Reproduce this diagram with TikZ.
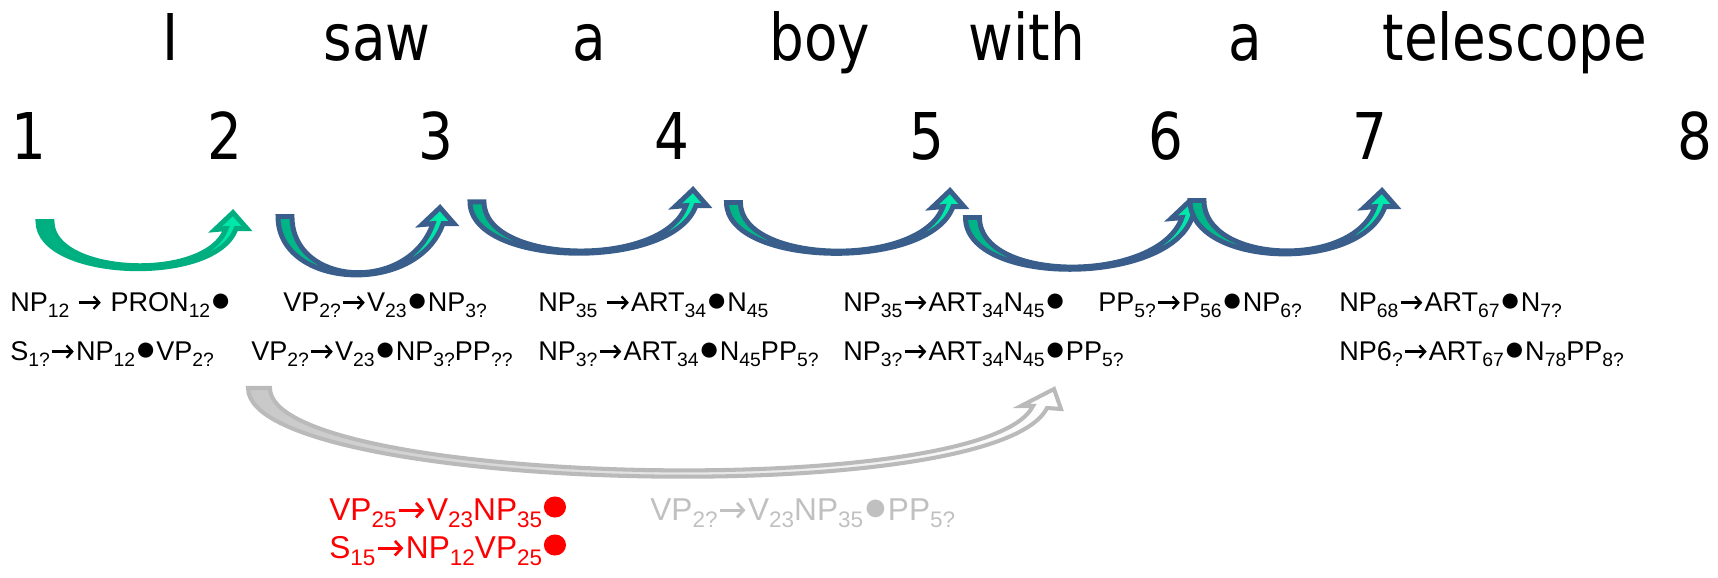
\documentclass[tikz,border=0pt]{standalone}
\usepackage{fontspec}
\setmainfont{Liberation Sans}
\newfontfamily\wordfont[FakeStretch=0.85]{DejaVu Sans}
\usetikzlibrary{arrows.meta, calc}
\definecolor{arcblue}{RGB}{58,94,140}
\definecolor{stripgreen}{RGB}{0,178,134}
\definecolor{lightgreen}{RGB}{0,236,172}
\definecolor{darkgreen}{RGB}{0,174,128}
\definecolor{arcgray}{RGB}{186,186,186}
\definecolor{softgray}{RGB}{200,200,200}
\definecolor{fadegray}{RGB}{192,192,192}
\def\subsize{11}
\newcommand{\sub}[1]{\raisebox{-0.23em}{\fontsize{\subsize}{\subsize}\selectfont #1}}
\newcommand{\bul}{\scalebox{1.3}{●}}
\newcommand{\bigdot}{\hspace{1pt}\tikz[baseline=0pt]\fill[red] (0pt,7.4pt) circle[x radius=6.3pt, y radius=6pt];}
\newcommand{\ra}{\hspace{0.04em}\tikz[baseline=0pt]\draw[line width=0.085em, -{Straight Barb[length=0.21em, width=0.46em]}] (0pt,0.31em) -- (0.8em,0.31em);\hspace{0.04em}}
% curved hop arrow: #2 start, #3 tip, #4 outer depth, #5 inner depth
\newcommand{\hop}[5][hopband]{%
  \filldraw[#1] ($(#2)+(-7,0)$) .. controls +(0,#4) and +(-0.35*#4,#4) .. ($(#3)+(3,16)$)
    -- ($(#3)+(14,16)$) -- (#3) -- ($(#3)+(-18,17)$) -- ($(#3)+(-7,16)$)
    .. controls +(-0.35*#5,#5) and +(0,#5) .. ($(#2)+(7,0)$) -- cycle;
}

\begin{document}
\begin{tikzpicture}[
        x=0.02cm, y=-0.02cm,
        word/.style={anchor=base, inner sep=0pt, font=\wordfont\fontsize{36.7}{40}\selectfont},
        rule/.style={anchor=base west, inner sep=0pt, font=\fontsize{15.4}{18}\selectfont\def\subsize{11}},
        done/.style={rule, text=red, font=\fontsize{18}{21}\selectfont\def\subsize{12.8}},
        faded/.style={done, text=fadegray},
        hopband/.style={draw=arcblue, line width=2.8pt, line join=miter, left color=stripgreen, right color=lightgreen},
        firsthop/.style={hopband, draw=darkgreen, left color=darkgreen, right color=lightgreen},
        grayhop/.style={draw=arcgray, line width=2.3pt, line join=miter, left color=softgray, right color=white}
    ]
        \useasboundingbox (0,0) rectangle (1718,578);

        % sentence and positions
        \node[word] (w1) at (171,60) {I};
        \node[word] (w2) at (377,60) {saw};
        \node[word] (w3) at (589,60) {a};
        \node[word] (w4) at (820,60) {boy};
        \node[word] (w5) at (1027,60) {with};
        \node[word] (w6) at (1245,60) {a};
        \node[word] (w7) at (1515,60) {telescope};

        \node[word] (p1) at (29,159) {1};
        \node[word] (p2) at (225,159) {2};
        \node[word] (p3) at (436,159) {3};
        \node[word] (p4) at (672,159) {4};
        \node[word] (p5) at (927,159) {5};
        \node[word] (p6) at (1166,159) {6};
        \node[word] (p7) at (1370,159) {7};
        \node[word] (p8) at (1695,159) {8};

        % arc ends
        \coordinate (b1) at (45,221.5);   \coordinate (e1) at (233,212.6);
        \coordinate (b2) at (285,216.5);  \coordinate (e2) at (440,207.6);
        \coordinate (b3) at (477,201.8);  \coordinate (e3) at (693,189.6);
        \coordinate (b4) at (733.5,202.5);\coordinate (e4) at (950,190.6);
        \coordinate (b5) at (972.5,217.5);\coordinate (e5) at (1189,201.6);
        \coordinate (b6) at (1197,200.5); \coordinate (e6) at (1382,190.6);
        \coordinate (b7) at (259,388);    \coordinate (e7) at (1054,389);

        \hop[firsthop]{b1}{e1}{58}{54}
        \hop{b2}{e2}{73}{70}
        \hop{b3}{e3}{66}{63}
        \hop{b4}{e4}{65}{62}
        \hop{b5}{e5}{69}{66}
        \hop{b6}{e6}{67}{63}
        \filldraw[grayhop] ($(b7)+(-11,0)$) .. controls +(0,104) and +(-52,104) .. ($(e7)+(-7,19)$)
            -- ($(e7)+(7,20)$) -- (e7) -- ($(e7)+(-33,17)$) -- ($(e7)+(-21,17)$)
            .. controls +(-48,97) and +(0,97) .. ($(b7)+(11,0)$) -- cycle;

        % dotted rules
        \node[rule] (np12) at (10,311) {NP\sub{12} \ra{} PRON\sub{12}\bul};
        \node[rule] (s1) at (10,360) {S\sub{1?}\ra NP\sub{12}\bul VP\sub{2?}};
        \node[rule] (vp2a) at (283,311) {VP\sub{2?}\ra V\sub{23}\bul NP\sub{3?}};
        \node[rule] (vp2b) at (251,360) {VP\sub{2?}\ra V\sub{23}\bul NP\sub{3?}PP\sub{??}};
        \node[rule] (np35a) at (538,311) {NP\sub{35} \ra ART\sub{34}\bul N\sub{45}};
        \node[rule] (np3a) at (538,360) {NP\sub{3?}\ra ART\sub{34}\bul N\sub{45}PP\sub{5?}};
        \node[rule] (np35b) at (843,311) {NP\sub{35}\ra ART\sub{34}N\sub{45}\bul};
        \node[rule] (np3b) at (843,360) {NP\sub{3?}\ra ART\sub{34}N\sub{45}\bul PP\sub{5?}};
        \node[rule] (pp5) at (1098,311) {PP\sub{5?}\ra P\sub{56}\bul NP\sub{6?}};
        \node[rule] (np68) at (1339,311) {NP\sub{68}\ra ART\sub{67}\bul N\sub{7?}};
        \node[rule] (np6) at (1339,360) {NP6\sub{?}\ra ART\sub{67}\bul N\sub{78}PP\sub{8?}};

        \node[done] (vp25) at (329,520) {VP\sub{25}\ra V\sub{23}NP\sub{35}\bigdot};
        \node[done] (s15) at (329,558) {S\sub{15}\ra NP\sub{12}VP\sub{25}\bigdot};
        \node[faded] (vp2c) at (650,520) {VP\sub{2?}\ra V\sub{23}NP\sub{35}\bul PP\sub{5?}};
    \end{tikzpicture}
\end{document}
